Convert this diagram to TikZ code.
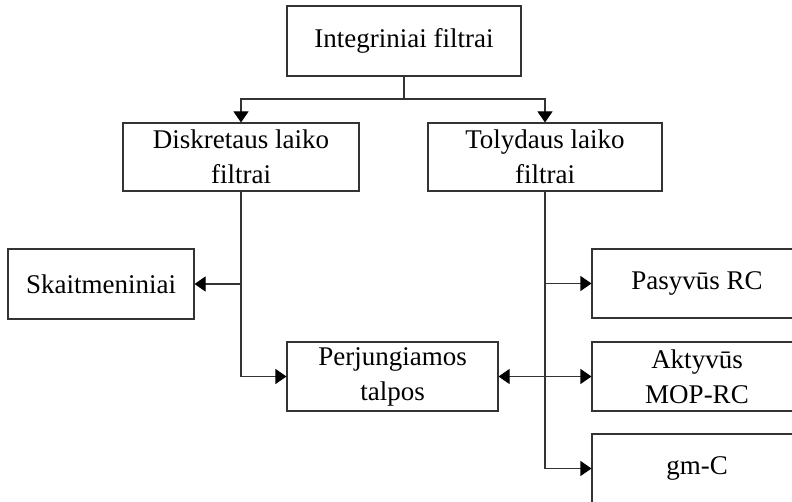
\documentclass[tikz,border=0pt]{standalone}
\usepackage{fontspec}
\setmainfont{Liberation Serif}
\usetikzlibrary{arrows.meta}
\begin{document}
\begin{tikzpicture}[x=1pt,y=-1pt,
  box/.style={draw=black!80, line width=1.1pt, inner sep=0pt, align=center,
    font=\fontsize{27}{35}\selectfont, text=black},
  conn/.style={draw=black!80, line width=1.1pt},
  tip/.tip={Triangle[length=11pt,width=15pt,color=black]}]
\useasboundingbox (0,0) rectangle (792,502);
\node[box, minimum width=234pt, minimum height=70pt] (I) at (404,41) {Integriniai filtrai};
\node[box, minimum width=236pt, minimum height=68pt] (D) at (241,157) {Diskretaus laiko\\filtrai};
\node[box, minimum width=234pt, minimum height=68pt] (T) at (545,157) {Tolydaus laiko\\filtrai};
\node[box, minimum width=186pt, minimum height=70pt] (S) at (101,284) {Skaitmeniniai};
\node[box, minimum width=211pt, minimum height=69pt] (P) at (392.5,376.5) {Perjungiamos\\talpos};
\node[box, minimum width=210pt, minimum height=69pt] (Pa) at (697,283.5) {Pasyvūs RC};
\node[box, minimum width=210pt, minimum height=69pt] (A) at (697,376.5) {Aktyvūs\\MOP-RC};
\node[box, minimum width=210pt, minimum height=69pt] (G) at (697,468.5) {gm-C};
\coordinate (J) at (404,99);
\draw[conn] (I.south) -- (J);
\draw[conn,-tip] (J) -| (D.north);
\draw[conn,-tip] (J) -| (T.north);
\draw[conn,-tip] (D.south) |- (P.west);
\draw[conn,-tip] (D.south |- S.east) -- (S.east);
\draw[conn,-tip] (T.south) |- (G.west);
\draw[conn,-tip] (T.south |- Pa.west) -- (Pa.west);
\draw[conn,tip-tip] (P.east) -- (A.west);
\end{tikzpicture}
\end{document}
